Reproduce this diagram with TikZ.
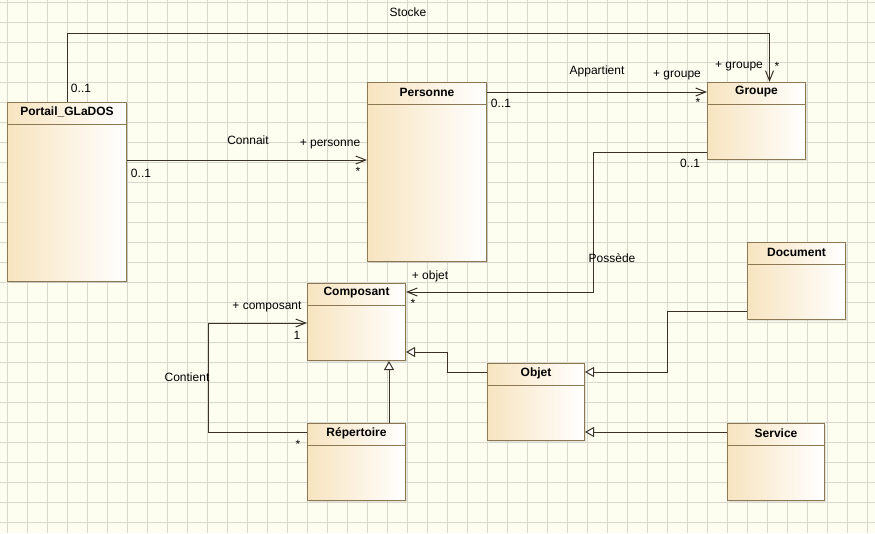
\documentclass[tikz,border=0pt]{standalone}
\usepackage{fontspec}
\setmainfont{Liberation Sans}
\usetikzlibrary{arrows.meta, shadows}

\definecolor{sheet}{HTML}{FEFEF0}
\definecolor{gridgray}{HTML}{D8D8CE}
\definecolor{classedge}{HTML}{8C7852}
\definecolor{classtan}{HTML}{F7E4C0}
\definecolor{wire}{HTML}{3A3226}

\begin{document}
\begin{tikzpicture}[
    x=1pt, y=-1pt,
    font=\fontsize{12}{14}\selectfont,
    classbox/.style={draw=classedge, line width=1pt, left color=classtan, right color=white,
                     anchor=north west, inner sep=0pt,
                     drop shadow={shadow xshift=1.5pt, shadow yshift=-1.5pt, opacity=0.2}},
    classname/.style={font=\fontsize{12}{14}\selectfont\bfseries, inner sep=0pt},
    assoc/.style={draw=wire, line width=1pt, -{Straight Barb[length=10pt, width=8pt]}},
    inherit/.style={draw=wire, line width=1pt, -{Triangle[open, fill=white, length=9pt, width=10pt]}},
    role/.style={inner sep=0pt},
]

% ---- Sheet and grid ----
\fill[sheet] (0,0) rectangle (875,533);
\useasboundingbox (0,0) rectangle (875,533);
\foreach \x in {7,27,...,867}
    \draw[gridgray, line width=1pt] (\x,0) -- (\x,533);
\foreach \y in {2,22,...,522}
    \draw[gridgray, line width=1pt] (0,\y) -- (875,\y);

% ---- Classes ----
% id / title / left / top / width / height
\foreach \id/\title/\x/\y/\w/\h in {
    portail/Portail\_GLaDOS/7/102/119/179,
    personne/Personne/367/82/119/179,
    groupe/Groupe/707/82/98/77,
    composant/Composant/307/283/98/77,
    repertoire/Répertoire/307/423/98/77,
    objet/Objet/487/363/97/77,
    document/Document/747/242/98/77,
    service/Service/727/423/97/77}
{
    \node[classbox, minimum width=\w pt, minimum height=\h pt] (\id) at (\x,\y) {};
    \node[classname] (\id-title) at ([yshift=-10pt]\id.north) {\title};
    \draw[classedge, line width=1pt] ([yshift=-22pt]\id.north west) -- ([yshift=-22pt]\id.north east);
}

% ---- Associations ----
% Stocke
\draw[assoc] (portail.north) -- (portail.north |- 0,33) -| ([xshift=13pt]groupe.north);
\node[role] (stocke) at (408,12) {Stocke};
\node[role] (stocke-src) at (81,88) {0..1};
\node[role] (stocke-role) at (739,66) {+ groupe};
\node[role] (stocke-mult) at (777,66) {*};

% Connait
\draw[assoc] (portail.east |- 0,160) -- (personne.west |- 0,160);
\node[role] (connait) at (248,140) {Connait};
\node[role] (connait-src) at (141,173) {0..1};
\node[role] (connait-role) at (330,144) {+ personne};
\node[role] (connait-mult) at (358,171) {*};

% Appartient
\draw[assoc] (personne.east |- 0,92) -- (groupe.west |- 0,92);
\node[role] (appartient) at (597,71) {Appartient};
\node[role] (appartient-src) at (501,103) {0..1};
\node[role] (appartient-role) at (677,75) {+ groupe};
\node[role] (appartient-mult) at (698,102) {*};

% Possède
\draw[assoc] (groupe.west |- 0,152) -| (593,292) -- (composant.east |- 0,292);
\node[role] (possede) at (612,258) {Possède};
\node[role] (possede-src) at (690,163) {0..1};
\node[role] (possede-role) at (430,276) {+ objet};
\node[role] (possede-mult) at (413,303) {*};

% Contient
\draw[assoc] (repertoire.west |- 0,432) -| (208,323) -- (composant.west |- 0,323);
\node[role] (contient) at (187,377) {Contient};
\node[role] (contient-role) at (267,307) {+ composant};
\node[role] (contient-one) at (297,335) {1};
\node[role] (contient-mult) at (298,444) {*};

% ---- Generalizations ----
\draw[inherit] (repertoire.north -| 389,0) -- (composant.south -| 389,0);
\draw[inherit] (objet.west |- 0,372) -| (447,352) -- (composant.east |- 0,352);
\draw[inherit] (document.west |- 0,311) -| (667,372) -- (objet.east |- 0,372);
\draw[inherit] (service.west |- 0,432) -- (objet.east |- 0,432);

\end{tikzpicture}
\end{document}
